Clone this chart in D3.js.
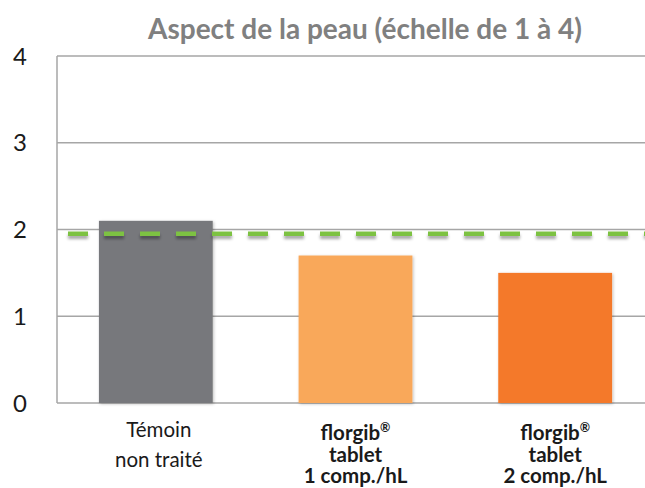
<!DOCTYPE html>
<html><head><meta charset="utf-8">
<script src="https://cdn.jsdelivr.net/npm/d3@7"></script>
<style>
html,body{margin:0;padding:0;background:#fff;}
svg{display:block;}
</style></head>
<body><svg id="c" width="645" height="488"></svg>
<script>
const categories = ["temoin", "tab1", "tab2"];
const categoryLabels = [["Témoin", "non traité"], ["florgib®", "tablet", "1 comp./hL"], ["florgib®", "tablet", "2 comp./hL"]];
const labelBold = [false, true, true];
const values = [2.1, 1.7, 1.5];
const barColors = ["#77787b", "#f9a85a", "#f4792b"];
const yTicks = [0, 1, 2, 3, 4];
const threshold = [1.95];
const title = "Aspect de la peau (échelle de 1 à 4)";

(function () {
const svg = d3.select("#c");
const W = 645, H = 488;
const mLeft = 57, mTop = 56, mBottom = 403;

const defs = svg.append("defs");
const f1 = defs.append("filter").attr("id","dsh").attr("filterUnits","userSpaceOnUse")
  .attr("x",0).attr("y",0).attr("width",W).attr("height",H);
f1.append("feDropShadow").attr("dx",0).attr("dy",3).attr("stdDeviation",1.6).attr("flood-color","#000").attr("flood-opacity",0.35);
const f2 = defs.append("filter").attr("id","bsh").attr("x","-10%").attr("y","-10%").attr("width","120%").attr("height","120%");
f2.append("feDropShadow").attr("dx",1).attr("dy",1).attr("stdDeviation",1.5).attr("flood-color","#000").attr("flood-opacity",0.25);

const y = d3.scaleLinear().domain([0, 4]).range([mBottom, mTop]);
const x = d3.scaleBand().domain(categories).range([mLeft, 654]).paddingInner(0.43).paddingOuter(0.21);

// gridlines
svg.append("g").selectAll("line").data(yTicks).join("line")
  .attr("x1", mLeft).attr("x2", W)
  .attr("y1", d => y(d)).attr("y2", d => y(d))
  .attr("stroke", "#a6a6a6").attr("stroke-width", 1.5);
svg.append("line").attr("x1", mLeft).attr("x2", mLeft).attr("y1", y(4)).attr("y2", y(0))
  .attr("stroke", "#a6a6a6").attr("stroke-width", 1.5);

// y labels
svg.append("g").selectAll("text").data(yTicks).join("text")
  .attr("x", 20).attr("y", d => y(d)).attr("dy", "0.36em")
  .attr("text-anchor", "middle")
  .attr("font-family", "Lato, 'Open Sans', sans-serif").attr("font-size", 24)
  .attr("fill", "#1a1a1a").text(d => d);

// bars
svg.append("g").selectAll("rect").data(values).join("rect")
  .attr("x", (d,i) => x(categories[i]))
  .attr("width", x.bandwidth())
  .attr("y", d => y(d))
  .attr("height", d => y(0) - y(d))
  .attr("fill", (d,i) => barColors[i])
  .attr("filter", "url(#bsh)");

// threshold dashed line
svg.append("g").selectAll("line").data(threshold).join("line")
  .attr("x1", mLeft).attr("x2", W + 10)
  .attr("y1", d => y(d)).attr("y2", d => y(d))
  .attr("stroke", "#7dc242").attr("stroke-width", 4.5)
  .attr("stroke-dasharray", "20 16").attr("stroke-dashoffset", 25)
  .attr("filter", "url(#dsh)");

// title
svg.append("text").attr("x", 365).attr("y", 39).attr("text-anchor", "middle")
  .attr("font-family", "Lato, 'Open Sans', sans-serif").attr("font-weight", "bold")
  .attr("font-size", 28).attr("fill", "#808080").text(title);

// x labels
const xl = svg.append("g").selectAll("text").data(categories).join("text")
  .attr("text-anchor", "middle")
  .attr("font-family", "Lato, 'Open Sans', sans-serif")
  .attr("font-weight", (d,i) => labelBold[i] ? "bold" : "normal")
  .attr("font-size", 20.5)
  .attr("fill", "#1a1a1a");
xl.each(function(d, i) {
  const t = d3.select(this);
  const cx = x(d) + x.bandwidth() / 2 + (labelBold[i] ? 0 : 3);
  const lh = labelBold[i] ? 21.5 : 30;
  const y0 = labelBold[i] ? 440 : 437;
  categoryLabels[i].forEach((s, k) => {
    const ts = t.append("tspan").attr("x", cx).attr("y", y0 + k * lh);
    if (s.endsWith("®")) {
      ts.text(s.slice(0, -1));
      ts.append("tspan").attr("font-size", 12.5).attr("dy", -8).text("®");
    } else ts.text(s);
  });
});
})();
</script></body></html>
